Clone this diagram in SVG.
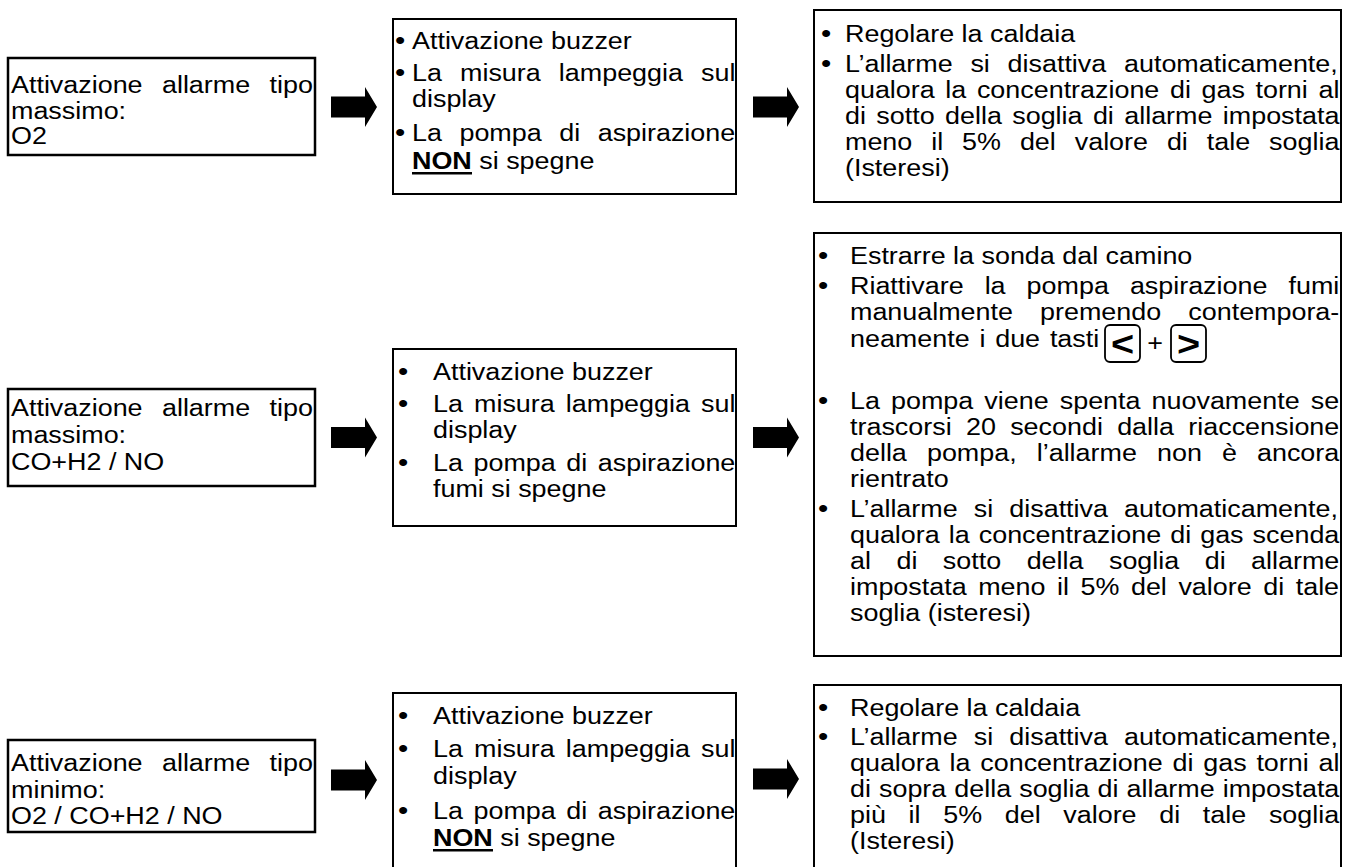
<svg xmlns="http://www.w3.org/2000/svg" width="1345" height="867" viewBox="0 0 1345 867">
<style>
.t{font-family:"Liberation Sans",Arial,sans-serif;font-size:23px;fill:#000}
.bd{font-weight:bold}
.bl{font-family:"Liberation Sans",Arial,sans-serif;font-size:25px;fill:#000}
.kg{font-family:"Liberation Sans",Arial,sans-serif;font-size:36px;font-weight:bold;fill:#000}
.box{fill:#fff;stroke:#000;stroke-width:2}
.lbox{fill:#fff;stroke:#000;stroke-width:2.5}
.key{fill:none;stroke:#000;stroke-width:1.8}
.arr{fill:#000}
.ul{fill:#000}
</style>
<defs>
<path id="arrow" d="M0,-10.5 H34 V-20 L46,0 L34,20 V10.5 H0 Z"/>
</defs>
<rect width="1345" height="867" fill="#fff"/>

<g id="connectors">
<use href="#arrow" class="arr" x="331" y="107"/>
<use href="#arrow" class="arr" x="753" y="107"/>
<use href="#arrow" class="arr" x="331" y="437.5"/>
<use href="#arrow" class="arr" x="753" y="437.5"/>
<use href="#arrow" class="arr" x="331" y="780"/>
<use href="#arrow" class="arr" x="753" y="779"/>
</g>

<g id="trigger1">
<rect class="lbox" x="8" y="58" width="307" height="97"/>
<text class="t" transform="translate(11 93) scale(1.17 1)" word-spacing="10.2">Attivazione allarme tipo</text>
<text class="t" transform="translate(11 118.5) scale(1.17 1)">massimo:</text>
<text class="t" transform="translate(11 144) scale(1.17 1)">O2</text>
</g>

<g id="effect1">
<rect class="box" x="393" y="19" width="343" height="175"/>
<text class="bl" transform="translate(400 49) scale(1.17 1)" text-anchor="middle">•</text>
<text class="t" transform="translate(412 49) scale(1.17 1)">Attivazione buzzer</text>
<text class="bl" transform="translate(400 81) scale(1.17 1)" text-anchor="middle">•</text>
<text class="t" transform="translate(412 81) scale(1.17 1)" word-spacing="9.1">La misura lampeggia sul</text>
<text class="t" transform="translate(412 107) scale(1.17 1)">display</text>
<text class="bl" transform="translate(400 141) scale(1.17 1)" text-anchor="middle">•</text>
<text class="t" transform="translate(412 141) scale(1.17 1)" word-spacing="8.6">La pompa di aspirazione</text>
<text class="t" transform="translate(412 169) scale(1.17 1)"><tspan class="bd">NON</tspan> si spegne</text>
<rect class="ul" x="412" y="172" width="60" height="2.5"/>
</g>

<g id="action1">
<rect class="box" x="814" y="10" width="527" height="192"/>
<text class="bl" transform="translate(826 42) scale(1.17 1)" text-anchor="middle">•</text>
<text class="t" transform="translate(845 42) scale(1.17 1)">Regolare la caldaia</text>
<text class="bl" transform="translate(826 72) scale(1.17 1)" text-anchor="middle">•</text>
<text class="t" transform="translate(845 72) scale(1.17 1)" word-spacing="8.8">L’allarme si disattiva automaticamente,</text>
<text class="t" transform="translate(845 98) scale(1.17 1)" word-spacing="2.7">qualora la concentrazione di gas torni al</text>
<text class="t" transform="translate(845 124) scale(1.17 1)" word-spacing="2.5">di sotto della soglia di allarme impostata</text>
<text class="t" transform="translate(845 150) scale(1.17 1)" word-spacing="9.8">meno il 5% del valore di tale soglia</text>
<text class="t" transform="translate(845 176) scale(1.17 1)">(Isteresi)</text>
</g>

<g id="trigger2">
<rect class="lbox" x="8" y="389" width="307" height="97"/>
<text class="t" transform="translate(11 416) scale(1.17 1)" word-spacing="10.2">Attivazione allarme tipo</text>
<text class="t" transform="translate(11 443) scale(1.17 1)">massimo:</text>
<text class="t" transform="translate(11 470) scale(1.17 1)">CO+H2 / NO</text>
</g>

<g id="effect2">
<rect class="box" x="393" y="349" width="343" height="177"/>
<text class="bl" transform="translate(403 380) scale(1.17 1)" text-anchor="middle">•</text>
<text class="t" transform="translate(433 380) scale(1.17 1)">Attivazione buzzer</text>
<text class="bl" transform="translate(403 412) scale(1.17 1)" text-anchor="middle">•</text>
<text class="t" transform="translate(433 412) scale(1.17 1)" word-spacing="3.1">La misura lampeggia sul</text>
<text class="t" transform="translate(433 438) scale(1.17 1)">display</text>
<text class="bl" transform="translate(403 471) scale(1.17 1)" text-anchor="middle">•</text>
<text class="t" transform="translate(433 471) scale(1.17 1)" word-spacing="2.65">La pompa di aspirazione</text>
<text class="t" transform="translate(433 497) scale(1.17 1)">fumi si spegne</text>
</g>

<g id="action2">
<rect class="box" x="814" y="233" width="527" height="423"/>
<text class="bl" transform="translate(823 264) scale(1.17 1)" text-anchor="middle">•</text>
<text class="t" transform="translate(850 264) scale(1.17 1)">Estrarre la sonda dal camino</text>
<text class="bl" transform="translate(823 294) scale(1.17 1)" text-anchor="middle">•</text>
<text class="t" transform="translate(850 294) scale(1.17 1)" word-spacing="11.6">Riattivare la pompa aspirazione fumi</text>
<text class="t" transform="translate(850 320) scale(1.17 1)" word-spacing="16.8">manualmente premendo contempora-</text>
<text class="t" transform="translate(850 347) scale(1.17 1)" word-spacing="2">neamente i due tasti</text>
<rect class="key" x="1105" y="325" width="35" height="37" rx="5"/>
<text class="kg" transform="translate(1122.5 356) scale(1.1 1)" text-anchor="middle">&lt;</text>
<text class="t" transform="translate(1155 351) scale(1.17 1)" text-anchor="middle">+</text>
<rect class="key" x="1171" y="325" width="35" height="37" rx="5"/>
<text class="kg" transform="translate(1188.5 356) scale(1.1 1)" text-anchor="middle">&gt;</text>
<text class="bl" transform="translate(823 409) scale(1.17 1)" text-anchor="middle">•</text>
<text class="t" transform="translate(850 409) scale(1.17 1)" word-spacing="3.1">La pompa viene spenta nuovamente se</text>
<text class="t" transform="translate(850 435) scale(1.17 1)" word-spacing="5.85">trascorsi 20 secondi dalla riaccensione</text>
<text class="t" transform="translate(850 461) scale(1.17 1)" word-spacing="10.8">della pompa, l’allarme non è ancora</text>
<text class="t" transform="translate(850 487) scale(1.17 1)">rientrato</text>
<text class="bl" transform="translate(823 517) scale(1.17 1)" text-anchor="middle">•</text>
<text class="t" transform="translate(850 517) scale(1.17 1)" word-spacing="7.4">L’allarme si disattiva automaticamente,</text>
<text class="t" transform="translate(850 543) scale(1.17 1)" word-spacing="1.35">qualora la concentrazione di gas scenda</text>
<text class="t" transform="translate(850 569) scale(1.17 1)" word-spacing="15.4">al di sotto della soglia di allarme</text>
<text class="t" transform="translate(850 595) scale(1.17 1)" word-spacing="3.5">impostata meno il 5% del valore di tale</text>
<text class="t" transform="translate(850 621) scale(1.17 1)">soglia (isteresi)</text>
</g>

<g id="trigger3">
<rect class="lbox" x="8" y="740" width="307" height="92"/>
<text class="t" transform="translate(11 771) scale(1.17 1)" word-spacing="10.2">Attivazione allarme tipo</text>
<text class="t" transform="translate(11 797.5) scale(1.17 1)">minimo:</text>
<text class="t" transform="translate(11 824) scale(1.17 1)">O2 / CO+H2 / NO</text>
</g>

<g id="effect3">
<rect class="box" x="393" y="693" width="343" height="190"/>
<text class="bl" transform="translate(403 724) scale(1.17 1)" text-anchor="middle">•</text>
<text class="t" transform="translate(433 724) scale(1.17 1)">Attivazione buzzer</text>
<text class="bl" transform="translate(403 757) scale(1.17 1)" text-anchor="middle">•</text>
<text class="t" transform="translate(433 757) scale(1.17 1)" word-spacing="3.1">La misura lampeggia sul</text>
<text class="t" transform="translate(433 784) scale(1.17 1)">display</text>
<text class="bl" transform="translate(403 819) scale(1.17 1)" text-anchor="middle">•</text>
<text class="t" transform="translate(433 819) scale(1.17 1)" word-spacing="2.65">La pompa di aspirazione</text>
<text class="t" transform="translate(433 846) scale(1.17 1)"><tspan class="bd">NON</tspan> si spegne</text>
<rect class="ul" x="433" y="849" width="60" height="2.5"/>
</g>

<g id="action3">
<rect class="box" x="814" y="685" width="527" height="200"/>
<text class="bl" transform="translate(823 716) scale(1.17 1)" text-anchor="middle">•</text>
<text class="t" transform="translate(850 716) scale(1.17 1)">Regolare la caldaia</text>
<text class="bl" transform="translate(823 745) scale(1.17 1)" text-anchor="middle">•</text>
<text class="t" transform="translate(850 745) scale(1.17 1)" word-spacing="7.4">L’allarme si disattiva automaticamente,</text>
<text class="t" transform="translate(850 771) scale(1.17 1)" word-spacing="2.0">qualora la concentrazione di gas torni al</text>
<text class="t" transform="translate(850 797) scale(1.17 1)" word-spacing="0.5">di sopra della soglia di allarme impostata</text>
<text class="t" transform="translate(850 823) scale(1.17 1)" word-spacing="13.0">più il 5% del valore di tale soglia</text>
<text class="t" transform="translate(850 849) scale(1.17 1)">(Isteresi)</text>
</g>
</svg>
